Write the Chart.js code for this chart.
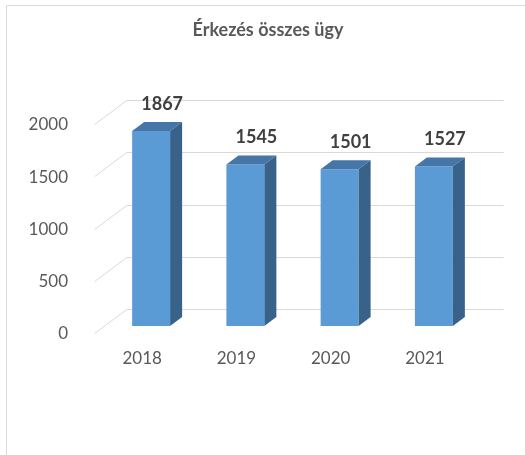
<!DOCTYPE html>
<html lang="hu">
<head>
    <meta charset="UTF-8">
    <title>Érkezés összes ügy</title>
    <script src="https://cdn.jsdelivr.net/npm/chart.js"></script>
    <style>
        body { margin: 0; background: #fff; }
        canvas { display: block; }
    </style>
</head>
<body>
    <canvas id="chart" width="525" height="455"></canvas>

    <script>
        // data
        const years = ['2018', '2019', '2020', '2021'];
        const cases = [1867, 1545, 1501, 1527];
        const yTicks = [0, 500, 1000, 1500, 2000];
        const titleText = 'Érkezés összes ügy';

        // 3D depth of the bars and of the back wall
        const barDx = 12, barDy = 9;
        const wallDx = 22.7, wallDy = 17;
        const frontDx = 9.3, frontDy = 7;

        // grey frame of the original chart object + title
        const framePlugin = {
            id: 'frame',
            beforeDraw(chart) {
                const ctx = chart.ctx;
                ctx.save();
                ctx.strokeStyle = '#d9d9d9';
                ctx.lineWidth = 1;
                ctx.beginPath();
                ctx.moveTo(6.5, 455);
                ctx.lineTo(6.5, 5.5);
                ctx.lineTo(525, 5.5);
                ctx.stroke();
                ctx.fillStyle = '#595959';
                ctx.font = 'bold 18px Lato';
                ctx.textAlign = 'center';
                ctx.textBaseline = 'middle';
                ctx.fillText(titleText, 268, 30);
                ctx.restore();
            }
        };

        // floor diagonal + back wall gridlines
        const wallPlugin = {
            id: 'wall',
            beforeDatasetsDraw(chart) {
                const ctx = chart.ctx;
                const y = chart.scales.y;
                const area = chart.chartArea;
                ctx.save();
                ctx.strokeStyle = '#d9d9d9';
                ctx.lineWidth = 1;
                y.ticks.forEach(t => {
                    const py = Math.round(y.getPixelForValue(t.value));
                    ctx.beginPath();
                    ctx.moveTo(area.left - frontDx, py + frontDy + 0.5);
                    ctx.lineTo(area.left + wallDx, py - wallDy + 0.5);
                    ctx.lineTo(area.right + wallDx, py - wallDy + 0.5);
                    ctx.stroke();
                });
                ctx.restore();
            }
        };

        // top and side faces of the columns, then the value labels
        const columnPlugin = {
            id: 'columns',
            afterDatasetsDraw(chart) {
                const ctx = chart.ctx;
                const meta = chart.getDatasetMeta(0);
                ctx.save();
                meta.data.forEach((bar, i) => {
                    const p = bar.getProps(['x', 'y', 'base', 'width'], true);
                    const l = p.x - p.width / 2, r = p.x + p.width / 2;
                    // top
                    ctx.fillStyle = '#4676a8';
                    ctx.beginPath();
                    ctx.moveTo(l, p.y);
                    ctx.lineTo(r, p.y);
                    ctx.lineTo(r + barDx, p.y - barDy);
                    ctx.lineTo(l + barDx, p.y - barDy);
                    ctx.closePath();
                    ctx.fill();
                    // side
                    ctx.fillStyle = '#38628a';
                    ctx.beginPath();
                    ctx.moveTo(r, p.y);
                    ctx.lineTo(r + barDx, p.y - barDy);
                    ctx.lineTo(r + barDx, p.base - barDy);
                    ctx.lineTo(r, p.base);
                    ctx.closePath();
                    ctx.fill();
                    // label
                    ctx.fillStyle = '#404040';
                    ctx.font = 'bold 18px Lato';
                    ctx.textAlign = 'center';
                    ctx.textBaseline = 'middle';
                    ctx.fillText(cases[i], p.x + 11, p.y - barDy - 18);
                });
                ctx.restore();
            }
        };

        const ctx = document.getElementById('chart').getContext('2d');
        const chart = new Chart(ctx, {
            type: 'bar',
            data: {
                labels: years,
                datasets: [{
                    data: cases,
                    backgroundColor: '#5b9bd5',
                    borderWidth: 0,
                    categoryPercentage: 1,
                    barPercentage: 0.403
                }]
            },
            options: {
                responsive: false,
                animation: false,
                layout: {
                    padding: { left: 24, right: 44, top: 117, bottom: 69 }
                },
                plugins: {
                    legend: { display: false },
                    tooltip: { enabled: false },
                    title: { display: false }
                },
                scales: {
                    x: {
                        afterFit(scale) { scale.height = 60; },
                        grid: { display: false },
                        border: { display: false },
                        ticks: {
                            color: '#595959',
                            font: { family: 'Lato', size: 17, lineHeight: 1.2 },
                            padding: 14,
                            labelOffset: -9,
                            maxRotation: 0
                        }
                    },
                    y: {
                        min: 0,
                        max: 2000,
                        afterFit(scale) { scale.width = 80; },
                        afterBuildTicks(scale) {
                            scale.ticks = yTicks.map(v => ({ value: v }));
                        },
                        grid: { display: false },
                        border: { display: false },
                        ticks: {
                            color: '#595959',
                            font: { family: 'Lato', size: 17, lineHeight: 1.2 },
                            padding: 28,
                            labelOffset: 8,
                            callback: v => String(v)
                        }
                    }
                }
            },
            plugins: [framePlugin, wallPlugin, columnPlugin]
        });
    </script>
</body>
</html>
